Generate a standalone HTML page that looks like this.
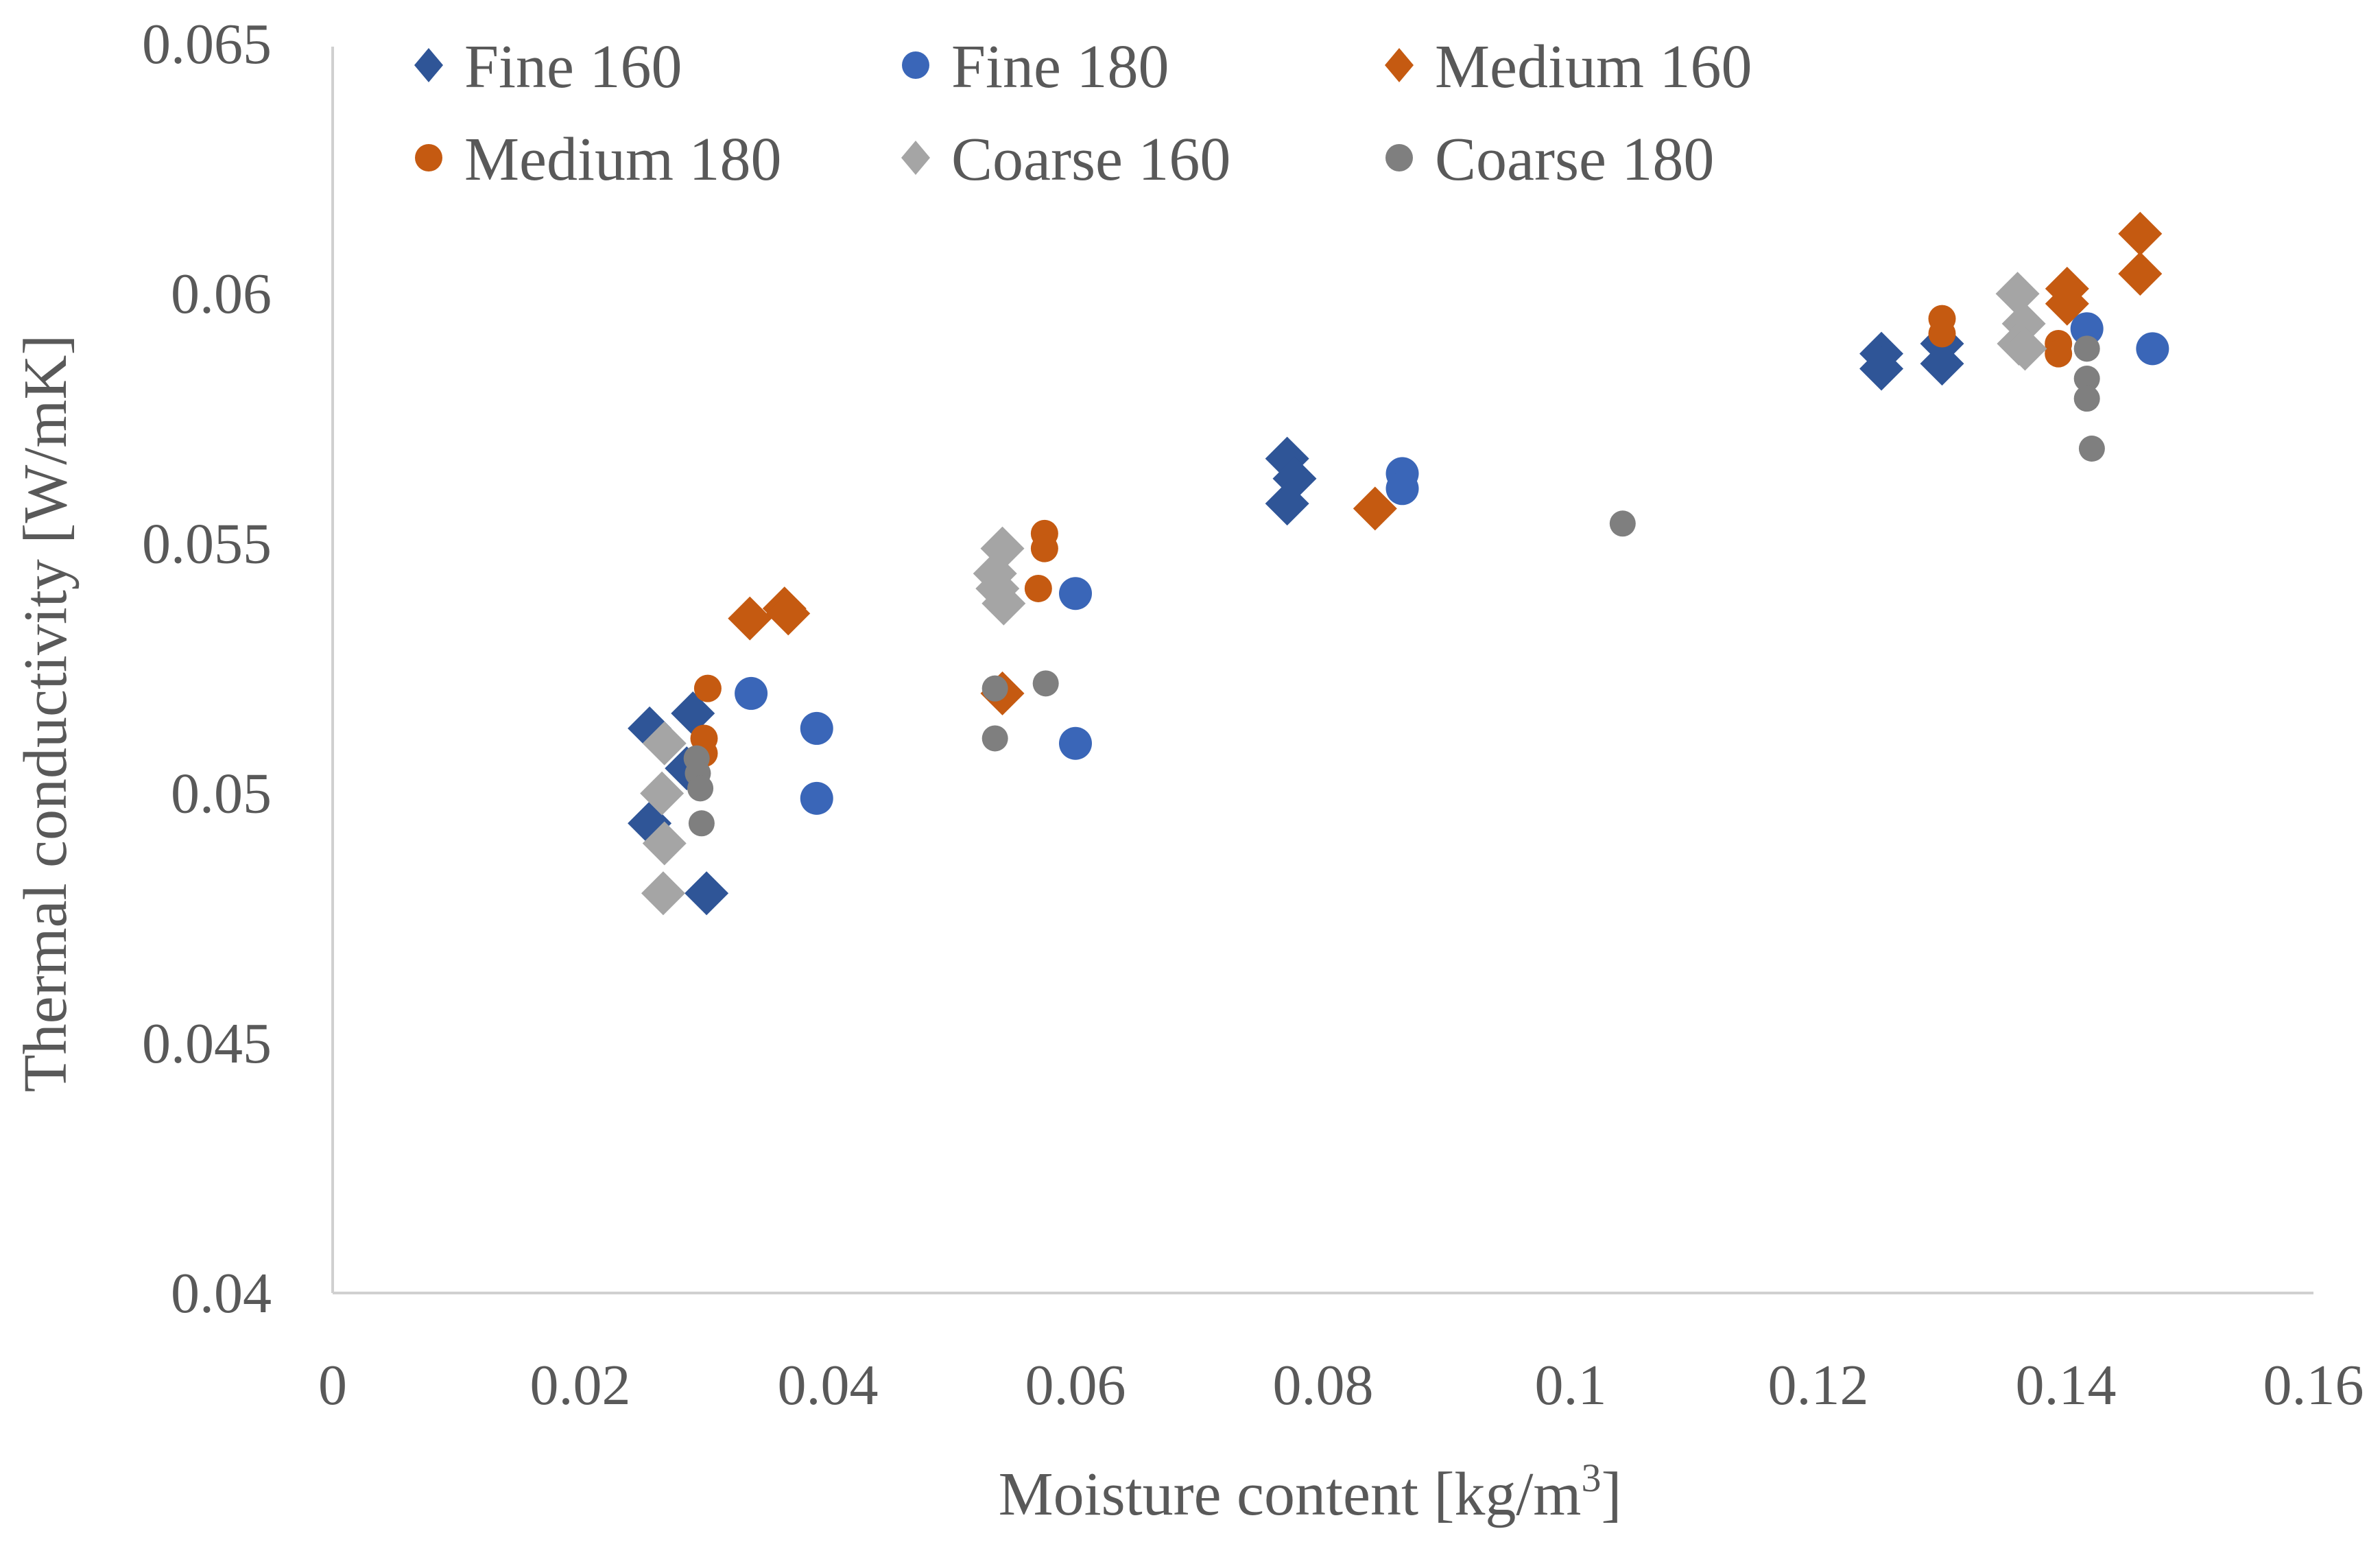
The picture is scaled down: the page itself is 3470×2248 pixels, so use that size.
<!DOCTYPE html>
<html><head><meta charset="utf-8"><style>
html,body{margin:0;padding:0;background:#fff;}
svg{display:block;font-family:"Liberation Serif",serif;}
</style></head><body>
<svg id="chart" width="3470" height="2248" viewBox="0 0 3470 2248" xmlns="http://www.w3.org/2000/svg">
<rect width="3470" height="2248" fill="#fff"/>
<g id="axes"></g><g id="marks"></g><g id="legend"></g>
<text x="1910" y="2208" font-size="90" fill="#595959" text-anchor="middle">Moisture content [kg/m<tspan font-size="58" dy="-34">3</tspan><tspan dy="34">]</tspan></text>
<text transform="translate(96,1040) rotate(-90)" font-size="90" fill="#595959" text-anchor="middle">Thermal conductivity [W/mK]</text>
</svg>
<script>
const xTicks=[0,0.02,0.04,0.06,0.08,0.1,0.12,0.14,0.16];
const xTickLabels=["0","0.02","0.04","0.06","0.08","0.1","0.12","0.14","0.16"];
const yTicks=[0.04,0.045,0.05,0.055,0.06,0.065];
const yTickLabels=["0.04","0.045","0.05","0.055","0.06","0.065"];
const seriesNames=["Fine 160","Fine 180","Medium 160","Medium 180","Coarse 160","Coarse 180"];
const fine160X=[0.0256,0.0291,0.0286,0.0256,0.0302,0.0771,0.0777,0.0771,0.1251,0.1251,0.130,0.130];
const fine160Y=[0.0513,0.0516,0.0505,0.0494,0.0480,0.0567,0.0563,0.0558,0.0588,0.0585,0.0590,0.0586];
const fine180X=[0.0338,0.0391,0.0391,0.060,0.060,0.0864,0.0864,0.1417,0.147];
const fine180Y=[0.0520,0.0513,0.0499,0.0540,0.0510,0.0564,0.0561,0.0593,0.0589];
const medium160X=[0.0337,0.0365,0.0368,0.0541,0.0842,0.1401,0.1401,0.146,0.146];
const medium160Y=[0.0535,0.0537,0.0536,0.0520,0.0557,0.0601,0.0598,0.0612,0.0604];
const medium180X=[0.0303,0.030,0.030,0.0575,0.0575,0.057,0.130,0.130,0.1394,0.1394];
const medium180Y=[0.0521,0.0511,0.0508,0.0552,0.0549,0.0541,0.0595,0.0592,0.0590,0.0588];
const coarse160X=[0.0268,0.0266,0.0268,0.0267,0.0541,0.0535,0.0537,0.0542,0.1361,0.1366,0.1362,0.1367];
const coarse160Y=[0.0510,0.0500,0.0490,0.0480,0.0549,0.0544,0.0541,0.0538,0.0600,0.0594,0.0590,0.0589];
const coarse180X=[0.0294,0.0295,0.0297,0.0298,0.0535,0.0576,0.0535,0.1042,0.1417,0.1417,0.1417,0.1421];
const coarse180Y=[0.0507,0.0504,0.0501,0.0494,0.0521,0.0522,0.0511,0.0554,0.0589,0.0583,0.0579,0.0569];

const NS="http://www.w3.org/2000/svg";
const X0=485,X1=3373,Y0=1885,Y1=64;
function sx(v){return X0+(v-0)/(0.16-0)*(X1-X0);}
function sy(v){return Y0-(v-0.04)/(0.065-0.04)*(Y0-Y1);}
function mk(tag,attrs,parent){const e=document.createElementNS(NS,tag);for(const k in attrs)e.setAttribute(k,attrs[k]);parent.appendChild(e);return e;}
const axes=document.getElementById('axes'),marks=document.getElementById('marks'),legend=document.getElementById('legend');

const ya=mk('line',{x1:X0,y1:68,x2:X0,y2:Y0,stroke:'#d0d0d0','stroke-width':4},axes);


const xa=mk('line',{x1:X0,y1:Y0,x2:X1,y2:Y0,stroke:'#d0d0d0','stroke-width':4},axes);


xTicks.forEach((t,i)=>{const e=mk('text',{x:sx(t),y:2047,'font-size':84,fill:'#595959','text-anchor':'middle'},axes);e.textContent=xTickLabels[i];

});
yTicks.forEach((t,i)=>{const e=mk('text',{x:396,y:sy(t)+28,'font-size':84,fill:'#595959','text-anchor':'end'},axes);e.textContent=yTickLabels[i];

});

const styles=[
 {shape:'d',fill:'#2F5597'},{shape:'c',fill:'#3A66B8',r:24},
 {shape:'d',fill:'#C55A11'},{shape:'c',fill:'#C55A11',r:20},
 {shape:'d',fill:'#A5A5A5'},{shape:'c',fill:'#7F7F7F',r:19}];
const xs=[fine160X,fine180X,medium160X,medium180X,coarse160X,coarse180X];
const ys=[fine160Y,fine180Y,medium160Y,medium180Y,coarse160Y,coarse180Y];
function marker(st,cx,cy,s,parent){
 if(st.shape==='d'){return mk('polygon',{points:`${cx},${cy-s} ${cx+s},${cy} ${cx},${cy+s} ${cx-s},${cy}`,fill:st.fill},parent);}
 return mk('circle',{cx:cx,cy:cy,r:st.r,fill:st.fill},parent);
}
xs.forEach((arr,si)=>{arr.forEach((xv,i)=>{const m=marker(styles[si],sx(xv),sy(ys[si][i]),32,marks);

});});

const legX=[625,1335,2040],legY=[95,230];
seriesNames.forEach((n,i)=>{const cx=legX[i%3],cy=legY[Math.floor(i/3)];
 const g=mk('g',{},legend);
 
 
 const st=styles[i];
 if(st.shape==='d')mk('polygon',{points:`${cx},${cy-25} ${cx+21},${cy} ${cx},${cy+25} ${cx-21},${cy}`,fill:st.fill},g);
 else mk('circle',{cx:cx,cy:cy,r:20,fill:st.fill},g);
 const t=mk('text',{x:cx+52,y:cy+32,'font-size':90,fill:'#595959'},g);t.textContent=n;});
</script>
</body></html>
